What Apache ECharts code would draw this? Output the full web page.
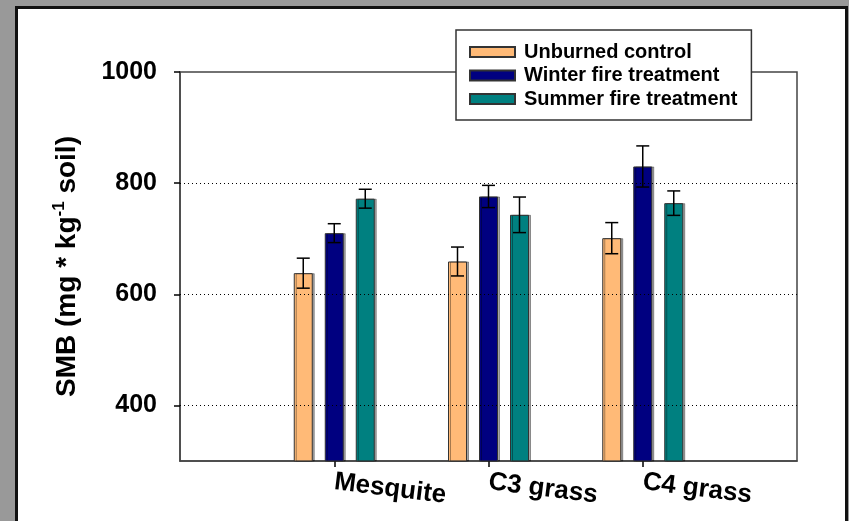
<!DOCTYPE html>
<html>
<head>
<meta charset="utf-8">
<script src="https://cdn.jsdelivr.net/npm/echarts@6/dist/echarts.min.js"></script>
<style>
  html, body { margin: 0; padding: 0; background: #999; }
  #chart { width: 849px; height: 521px; }
</style>
</head>
<body>
<div id="chart"></div>
<script>
// data
const categories = ['', 'Mesquite', 'C3 grass', 'C4 grass', ''];
const unburned = ['-', 638, 659, 701, '-'];
const unburnedErr = [0, 27, 26, 28, 0];
const winter = ['-', 710, 776, 830, '-'];
const winterErr = [0, 17, 20, 37, 0];
const summer = ['-', 772, 743, 764, '-'];
const summerErr = [0, 17, 32, 22, 0];
const yTicks = [400, 600, 800, 1000];
const gridLines = [400, 600, 800];

const FONT = "'Liberation Sans', Arial, sans-serif";
const BAR_W = 19;
const BAR_GAP = 12;

const chart = echarts.init(document.getElementById('chart'));

function errData(vals, errs) {
    const out = [];
    vals.forEach(function (v, i) {
        if (v !== '-') out.push([i, v, errs[i]]);
    });
    return out;
}

// offset = position of the bar inside its group (-1, 0, 1)
function errSeries(name, vals, errs, offset) {
    return {
        name: name + ' err',
        type: 'custom',
        z: 5,
        silent: true,
        encode: {x: 0, y: 1},
        data: errData(vals, errs),
        renderItem: function (params, api) {
            const idx = api.value(0);
            const v = api.value(1);
            const e = api.value(2);
            const dx = offset * (BAR_W + BAR_GAP);
            const top = api.coord([idx, v + e]);
            const bot = api.coord([idx, v - e]);
            const x = top[0] + dx;
            const cap = 6.5;
            const style = {stroke: '#000', lineWidth: 1.5};
            return {
                type: 'group',
                children: [
                    {type: 'line', shape: {x1: x, y1: top[1], x2: x, y2: bot[1]}, style: style},
                    {type: 'line', shape: {x1: x - cap, y1: top[1], x2: x + cap, y2: top[1]}, style: style},
                    {type: 'line', shape: {x1: x - cap, y1: bot[1], x2: x + cap, y2: bot[1]}, style: style}
                ]
            };
        }
    };
}

function barSeries(name, vals, color) {
    return {
        name: name,
        type: 'bar',
        z: 3,
        barWidth: BAR_W,
        barGap: (BAR_GAP / BAR_W * 100) + '%',
        itemStyle: {
            color: color,
            borderColor: '#333',
            borderWidth: 1,
            shadowColor: 'rgba(0,0,0,0.35)',
            shadowOffsetX: 2,
            shadowOffsetY: 0,
            shadowBlur: 0
        },
        emphasis: {disabled: true},
        data: vals
    };
}

const option = {
    backgroundColor: '#999',
    animation: false,
    textStyle: {fontFamily: FONT},
    graphic: {
        elements: [{
            type: 'rect',
            z: -10,
            shape: {x: 16.5, y: 7.5, width: 830, height: 540},
            style: {fill: '#fff', stroke: '#111', lineWidth: 3}
        }]
    },
    grid: {
        left: 180,
        right: 52,
        top: 72,
        bottom: 60,
        show: true,
        borderColor: '#444',
        borderWidth: 1.5,
        backgroundColor: 'transparent'
    },
    legend: {
        orient: 'vertical',
        left: 456,
        top: 30,
        data: ['Unburned control', 'Winter fire treatment', 'Summer fire treatment'],
        icon: 'rect',
        itemWidth: 45,
        itemHeight: 10,
        itemGap: 3.5,
        padding: [12, 14, 11, 13],
        backgroundColor: '#fff',
        borderColor: '#333',
        borderWidth: 1.5,
        textStyle: {fontFamily: FONT, fontSize: 20, fontWeight: 'bold', color: '#000', padding: [0, 0, 0, 4]}
    },
    xAxis: {
        type: 'category',
        data: categories,
        boundaryGap: false,
        axisLine: {show: true, lineStyle: {color: '#444', width: 1.5}},
        axisTick: {
            show: true,
            length: 6,
            interval: function (i) { return i > 0 && i < categories.length - 1; },
            lineStyle: {color: '#000', width: 1.5}
        },
        axisLabel: {
            interval: 0,
            rotate: -7,
            margin: 21,
            fontFamily: FONT,
            fontSize: 26,
            fontWeight: 'bold',
            color: '#000'
        },
        splitLine: {show: false}
    },
    yAxis: {
        type: 'value',
        min: 300,
        max: 1000,
        name: '{b|SMB (mg * kg}{s|-1}{b| soil)}',
        nameLocation: 'middle',
        nameGap: 97,
        nameTextStyle: {
            rich: {
                b: {fontFamily: FONT, fontSize: 28, fontWeight: 'bold', color: '#000', lineHeight: 32},
                s: {fontFamily: FONT, fontSize: 17, fontWeight: 'bold', color: '#000', verticalAlign: 'top', lineHeight: 32}
            }
        },
        axisLine: {show: true, lineStyle: {color: '#444', width: 1.5}},
        axisTick: {show: true, length: 6, customValues: yTicks, lineStyle: {color: '#000', width: 1.5}},
        axisLabel: {
            customValues: yTicks,
            formatter: function (v) { return String(v); },
            margin: 23,
            fontFamily: FONT,
            fontSize: 25,
            fontWeight: 'bold',
            color: '#000'
        },
        splitLine: {show: false}
    },
    series: [
        {
            name: 'grid lines',
            type: 'line',
            z: 1,
            silent: true,
            data: categories.map(function () { return '-'; }),
            markLine: {
                silent: true,
                symbol: 'none',
                label: {show: false},
                lineStyle: {color: '#000', width: 1, type: [1, 3]},
                data: gridLines.map(function (v) { return {yAxis: v}; })
            }
        },
        barSeries('Unburned control', unburned, '#FFBA77'),
        barSeries('Winter fire treatment', winter, '#000080'),
        barSeries('Summer fire treatment', summer, '#008080'),
        errSeries('Unburned control', unburned, unburnedErr, -1),
        errSeries('Winter fire treatment', winter, winterErr, 0),
        errSeries('Summer fire treatment', summer, summerErr, 1)
    ]
};

chart.setOption(option);
</script>
</body>
</html>
